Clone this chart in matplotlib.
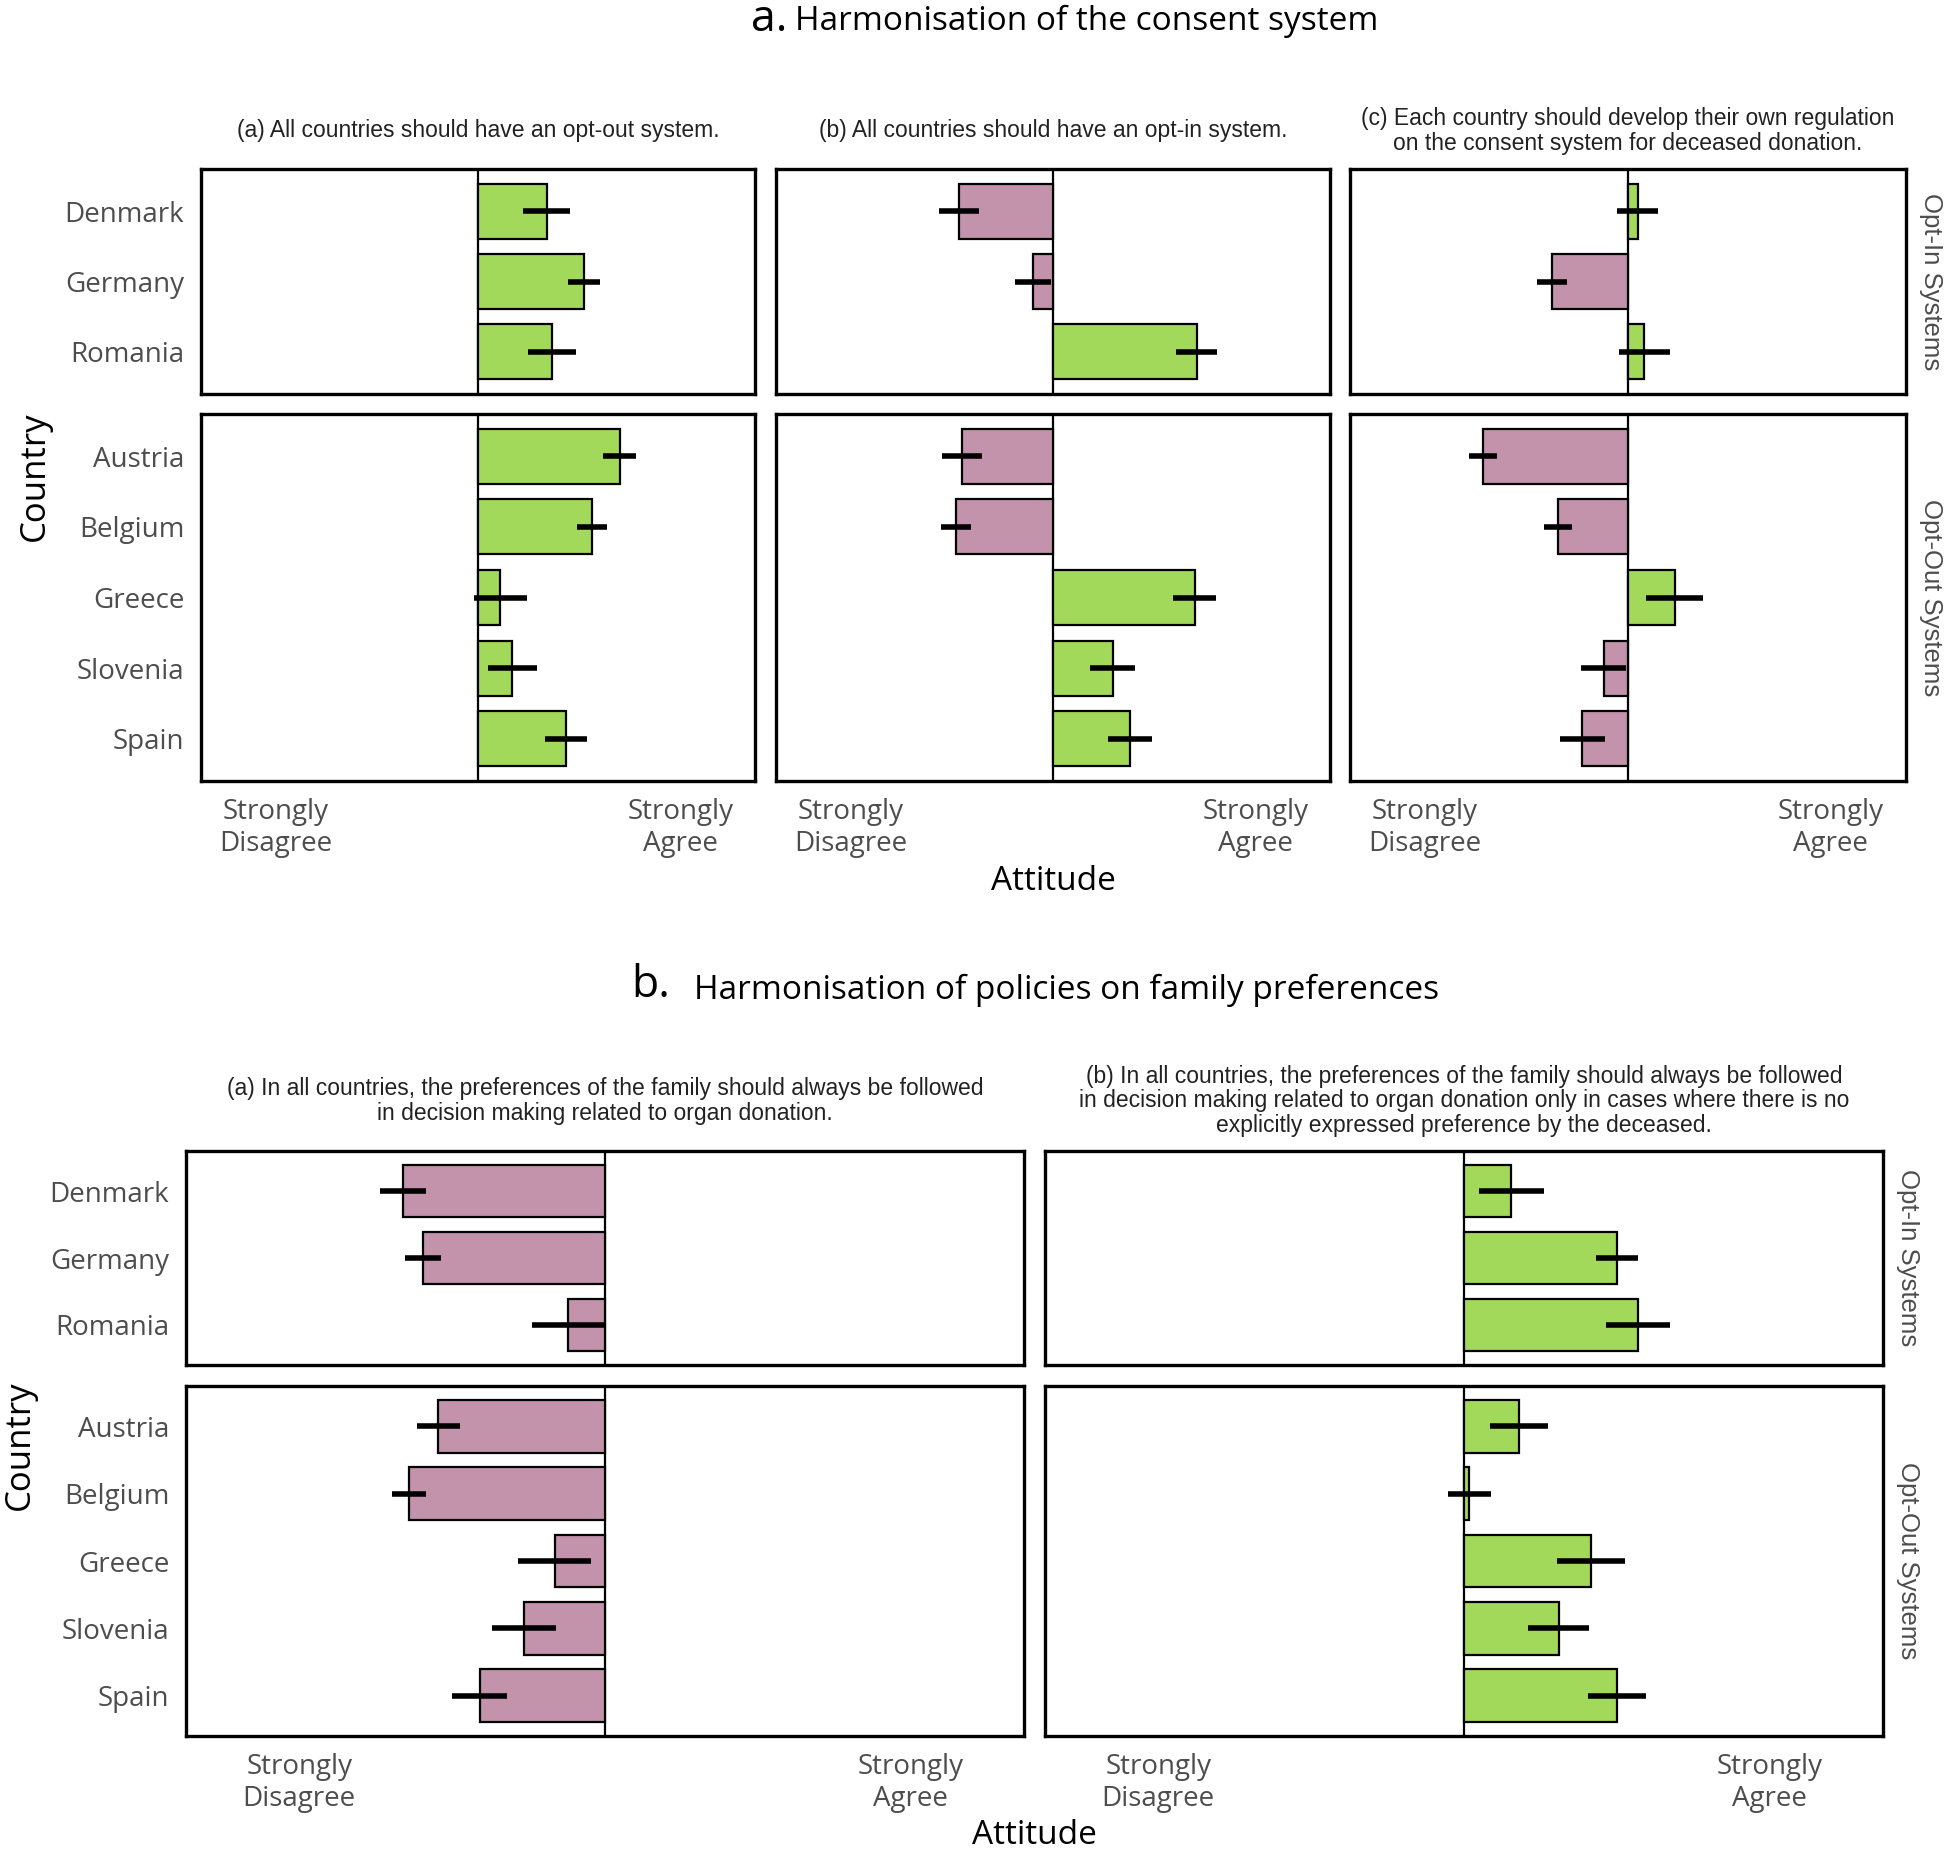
import matplotlib
matplotlib.use("Agg")
import matplotlib.pyplot as plt

# countries per facet
countries_in = ["Denmark", "Germany", "Romania"]
countries_out = ["Austria", "Belgium", "Greece", "Slovenia", "Spain"]

# mean attitude (-2 strongly disagree .. 2 strongly agree), order: in + out
optout_mean = [0.68, 1.05, 0.73, 1.40, 1.13, 0.22, 0.34, 0.87]
optout_err = [0.23, 0.16, 0.24, 0.16, 0.15, 0.26, 0.24, 0.21]
optin_mean = [-0.93, -0.20, 1.42, -0.90, -0.96, 1.40, 0.59, 0.76]
optin_err = [0.20, 0.18, 0.20, 0.20, 0.15, 0.21, 0.22, 0.22]
own_mean = [0.095, -0.75, 0.16, -1.43, -0.69, 0.46, -0.24, -0.45]
own_err = [0.20, 0.15, 0.25, 0.14, 0.14, 0.28, 0.22, 0.22]

family_mean = [-1.32, -1.19, -0.24, -1.09, -1.28, -0.33, -0.53, -0.82]
family_err = [0.15, 0.12, 0.24, 0.14, 0.11, 0.24, 0.21, 0.18]
family_nopref_mean = [0.31, 1.00, 1.14, 0.36, 0.035, 0.83, 0.62, 1.00]
family_nopref_err = [0.21, 0.14, 0.21, 0.19, 0.14, 0.22, 0.20, 0.19]

xtick_labels = ["Strongly\nDisagree", "Strongly\nAgree"]
strip_labels = ["Opt-In Systems", "Opt-Out Systems"]

GREEN = "#a2d95b"
PINK = "#c293ab"
GREY = "#4d4d4d"
W, H = 1944, 1855
XLIM = 2.74

fig = plt.figure(figsize=(W / 100, H / 100), dpi=100)
fig.patch.set_facecolor("white")


def px_axes(x0, y0, x1, y1):
    return fig.add_axes([x0 / W, 1 - y1 / H, (x1 - x0) / W, (y1 - y0) / H])


def draw_panel(ax, labels, vals, errs, left, bottom):
    n = len(labels)
    ys = list(range(n))
    colors = [GREEN if v >= 0 else PINK for v in vals]
    ax.axvline(0, color="black", lw=1.6, zorder=1)
    ax.barh(ys, vals, height=0.78, color=colors, edgecolor="black", lw=1.6, zorder=2)
    ax.errorbar(vals, ys, xerr=errs, fmt="none", ecolor="black", elinewidth=4, capsize=0, zorder=3)
    ax.set_xlim(-XLIM, XLIM)
    ax.set_ylim(n - 0.4, -0.6)
    for s in ax.spines.values():
        s.set_linewidth(2.4)
    ax.tick_params(length=0)
    ax.set_yticks(ys)
    if left:
        ax.set_yticklabels(labels, fontsize=20, color=GREY, family="Open Sans")
        ax.tick_params(axis="y", pad=12)
    else:
        ax.set_yticklabels([])
    ax.set_xticks([-2, 2])
    if bottom:
        ax.set_xticklabels(xtick_labels, fontsize=20, color=GREY, family="Open Sans", linespacing=1.2)
        ax.tick_params(axis="x", pad=12)
    else:
        ax.set_xticklabels([])


def draw_block(cols_x, rows_y, data, strip_x):
    for j, (x0, x1) in enumerate(cols_x):
        vals, errs = data[j]
        ax_in = px_axes(x0, rows_y[0][0], x1, rows_y[0][1])
        draw_panel(ax_in, countries_in, vals[:3], errs[:3], j == 0, False)
        ax_out = px_axes(x0, rows_y[1][0], x1, rows_y[1][1])
        draw_panel(ax_out, countries_out, vals[3:], errs[3:], j == 0, True)
    for k, (y0, y1) in enumerate(rows_y):
        fig.text(strip_x / W, 1 - (y0 + y1) / 2 / H, strip_labels[k], rotation=-90,
                 ha="center", va="center", fontsize=18.5, color=GREY, family="Liberation Sans")


# ---- part a ----
fig.text(787 / W, 1 - 20 / H, "a.", fontsize=32, family="Open Sans", ha="right", va="center")
fig.text(795 / W, 1 - 21 / H, "Harmonisation of the consent system", fontsize=24,
         family="Open Sans", ha="left", va="center")

top_cols = [(201, 755), (776, 1330), (1350, 1906)]
top_rows = [(169, 394), (414, 781)]
draw_block(top_cols, top_rows,
           [(optout_mean, optout_err), (optin_mean, optin_err), (own_mean, own_err)], 1931)

sub_a = ["(a) All countries should have an opt-out system.",
         "(b) All countries should have an opt-in system.",
         "(c) Each country should develop their own regulation\non the consent system for deceased donation."]
for (x0, x1), t in zip(top_cols, sub_a):
    fig.text((x0 + x1) / 2 / W, 1 - 131 / H, t, ha="center", va="center", fontsize=16.5,
             family="Liberation Sans", color="#222222", linespacing=1.1)

fig.text(35 / W, 1 - 476 / H, "Country", rotation=90, ha="center", va="center",
         fontsize=25, family="Open Sans")
fig.text(1053 / W, 1 - 882 / H, "Attitude", ha="center", va="center",
         fontsize=24, family="Open Sans")

# ---- part b ----
fig.text(670 / W, 1 - 986 / H, "b.", fontsize=32, family="Open Sans", ha="right", va="center")
fig.text(694 / W, 1 - 990 / H, "Harmonisation of policies on family preferences", fontsize=24,
         family="Open Sans", ha="left", va="center")

bot_cols = [(186, 1024), (1045, 1883)]
bot_rows = [(1151, 1365), (1386, 1736)]
draw_block(bot_cols, bot_rows,
           [(family_mean, family_err), (family_nopref_mean, family_nopref_err)], 1908)

sub_b = ["(a) In all countries, the preferences of the family should always be followed\n"
         "in decision making related to organ donation.",
         "(b) In all countries, the preferences of the family should always be followed\n"
         "in decision making related to organ donation only in cases where there is no\n"
         "explicitly expressed preference by the deceased."]
for (x0, x1), t in zip(bot_cols, sub_b):
    fig.text((x0 + x1) / 2 / W, 1 - 1101 / H, t, ha="center", va="center", fontsize=16.5,
             family="Liberation Sans", color="#222222", linespacing=1.1)

fig.text(20 / W, 1 - 1445 / H, "Country", rotation=90, ha="center", va="center",
         fontsize=25, family="Open Sans")
fig.text(1034 / W, 1 - 1836 / H, "Attitude", ha="center", va="center",
         fontsize=24, family="Open Sans")

fig.savefig("out.png", dpi=100, facecolor="white")
